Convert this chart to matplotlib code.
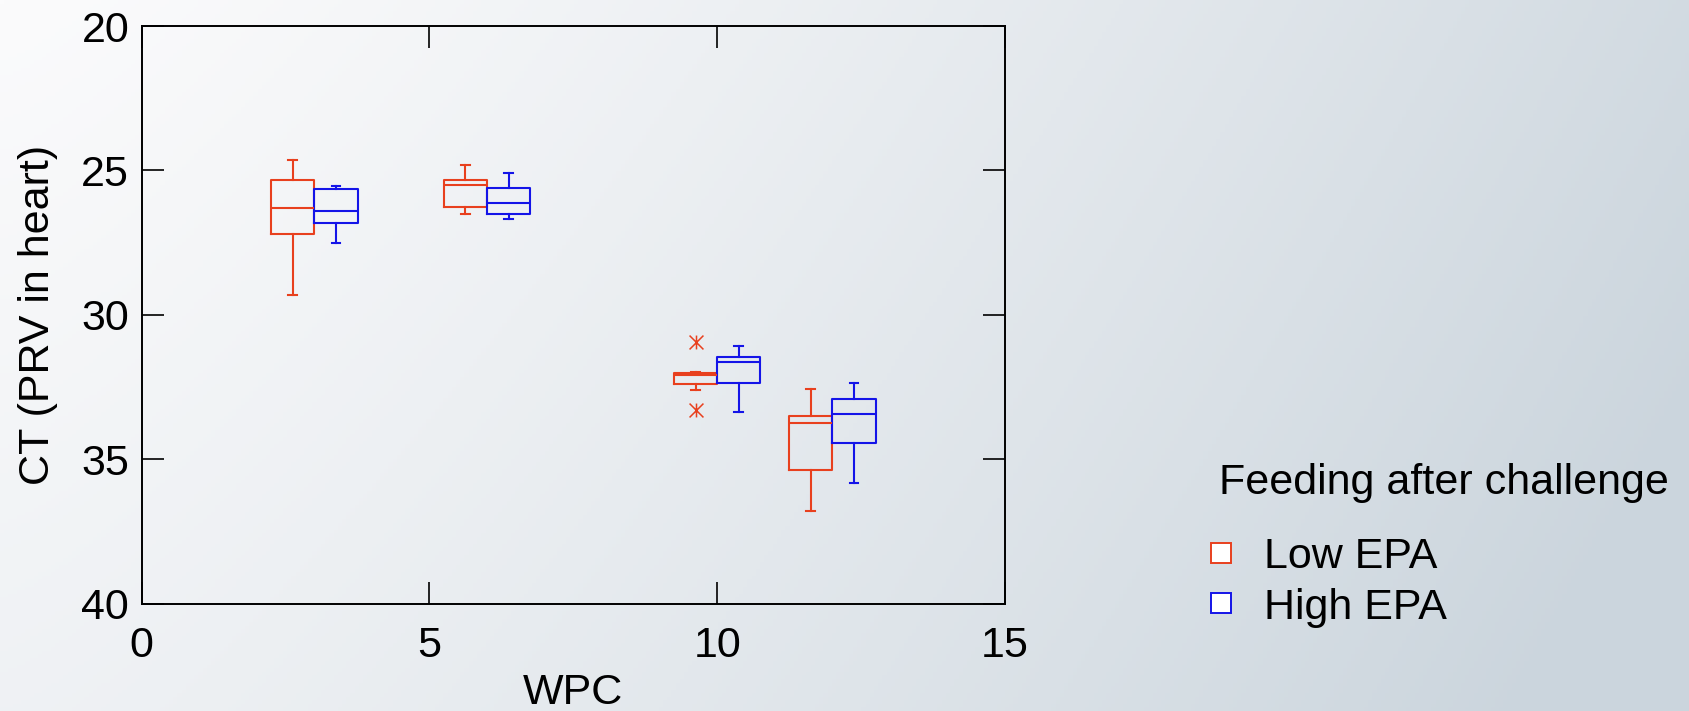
import numpy as np
import matplotlib
matplotlib.use("Agg")
import matplotlib.pyplot as plt
from matplotlib.lines import Line2D
from matplotlib.path import Path
from matplotlib.colors import to_rgb

plt.rcParams['font.family'] = ['Liberation Sans', 'DejaVu Sans']

# ---- data ----
wpc = [3, 6, 10, 12]
groups = ["Low EPA", "High EPA"]

low_whislo = [29.32, 26.51, 32.61, 36.81]
low_q1     = [27.19, 26.26, 32.41, 35.38]
low_med    = [26.32, 25.50, 32.09, 33.76]
low_q3     = [25.32, 25.32, 32.01, 33.51]
low_whishi = [24.65, 24.80, 31.97, 32.56]
low_fliers = [[], [], [30.94, 33.30], []]

high_whislo = [27.52, 26.67, 33.38, 35.84]
high_q1     = [26.83, 26.50, 32.37, 34.44]
high_med    = [26.40, 26.14, 31.65, 33.43]
high_q3     = [25.64, 25.60, 31.47, 32.91]
high_whishi = [25.54, 25.09, 31.09, 32.37]
high_fliers = [[], [], [], []]

x_ticks = [0, 5, 10, 15]
y_ticks = [20, 25, 30, 35, 40]

colors = ["#E8401E", "#1414E8"]
FS = 31

W, H = 1689, 711
fig = plt.figure(figsize=(W / 100, H / 100), dpi=100)

# background gradient
bg = fig.add_axes([0, 0, 1, 1], zorder=-10)
nx, ny = 400, 200
xx, yy = np.meshgrid(np.linspace(0, 1, nx), np.linspace(0, 1, ny))
t = np.clip(0.85 * xx ** 1.3 + 0.25 * yy, 0, 1)
c0 = np.array(to_rgb("#fbfbfc"))
c1 = np.array(to_rgb("#cbd5dd"))
img = c0[None, None, :] * (1 - t[..., None]) + c1[None, None, :] * t[..., None]
bg.imshow(img, aspect="auto", extent=[0, 1, 0, 1], origin="upper")
bg.axis("off")

ax = fig.add_axes([141.7 / W, 1 - 603.5 / H, (1005 - 141.7) / W, (603.5 - 26) / H])
ax.patch.set_alpha(0)

# asterisk marker: vertical bar plus an X
star = Path([(0, -0.5), (0, 0.5), (-0.5, -0.5), (0.5, 0.5), (-0.5, 0.5), (0.5, -0.5)],
            [Path.MOVETO, Path.LINETO, Path.MOVETO, Path.LINETO, Path.MOVETO, Path.LINETO])

def make_stats(lo, q1, med, q3, hi, fl):
    return [dict(whislo=a, q1=b, med=c, q3=d, whishi=e, fliers=f)
            for a, b, c, d, e, f in zip(lo, q1, med, q3, hi, fl)]

stats_low = make_stats(low_whislo, low_q1, low_med, low_q3, low_whishi, low_fliers)
stats_high = make_stats(high_whislo, high_q1, high_med, high_q3, high_whishi, high_fliers)

bw = 0.75
for stats, off, col in [(stats_low, -bw / 2, colors[0]), (stats_high, bw / 2, colors[1])]:
    pos = [w + off for w in wpc]
    lp = dict(color=col, linewidth=1.5)
    ax.bxp(stats, positions=pos, widths=bw, capwidths=0.15, showfliers=True,
           boxprops=lp, whiskerprops=lp, capprops=lp, medianprops=lp,
           flierprops=dict(marker=star, markersize=10, markeredgecolor=col,
                           markerfacecolor="none", markeredgewidth=1.1,
                           linestyle="none"),
           manage_ticks=False)

ax.set_xlim(0, 15)
ax.set_ylim(40, 20)
ax.set_xticks(x_ticks)
ax.set_yticks(y_ticks)
ax.tick_params(direction="in", length=15.5, width=1.2, labelsize=FS,
               top=True, right=True, color="black")
ax.tick_params(axis="x", pad=16)
ax.tick_params(axis="y", pad=9)
for s in ax.spines.values():
    s.set_linewidth(1.4)
ax.set_xlabel("WPC", fontsize=FS, labelpad=5)
ax.set_ylabel("CT (PRV in heart)", fontsize=FS, labelpad=17)

# legend
fig.text(1219 / W, 1 - 483 / H, "Feeding after challenge", fontsize=FS,
         ha="left", va="center")
handles = [Line2D([], [], marker="s", linestyle="none", markersize=14.5,
                  markerfacecolor="white", markeredgecolor=c, markeredgewidth=1.4)
           for c in colors]
fig.legend(handles, groups, loc="upper left",
           bbox_to_anchor=(1204 / W, 1 - 537 / H), frameon=False, fontsize=FS,
           handlelength=0.8, handletextpad=0.6, labelspacing=0.245, borderpad=0,
           borderaxespad=0)

fig.savefig("out.png", dpi=100)
